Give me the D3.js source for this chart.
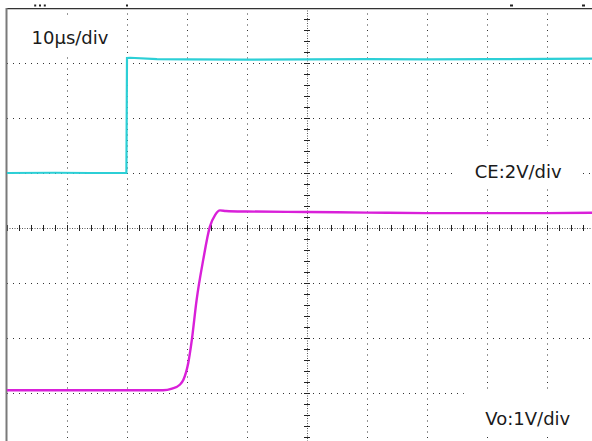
<!DOCTYPE html>
<html>
<head>
<meta charset="utf-8">
<script src="https://cdn.jsdelivr.net/npm/d3@7"></script>
<style>
  body { margin: 0; background: #fff; }
  svg { display: block; }
  text { font-family: "DejaVu Sans", Verdana, sans-serif; font-size: 18px; fill: #1a1a1a; }
</style>
</head>
<body>
<div id="scope"></div>
<script>
// CE channel (2V/div), time in µs, volts
const ceTime = [-50, -42, -36, -30.1, -30, -29.5, -25, -20, -10, 0, 10, 20, 30, 40, 50];
const ceVolt = [0.0, 0.01, 0.0, 0.0, 4.18, 4.19, 4.14, 4.13, 4.12, 4.13, 4.14, 4.13, 4.14, 4.15, 4.16];

// Vo channel (1V/div)
const voTime = [-50, -40, -30, -24, -22.5, -21.2, -20.6, -19.8, -19.2, -18.4, -17.3, -16.2, -15.3, -14.5, -13.5, -10, 0, 10, 20, 30, 40, 50];
const voVolt = [0.05, 0.05, 0.05, 0.05, 0.08, 0.15, 0.24, 0.54, 0.96, 1.69, 2.42, 3.02, 3.24, 3.32, 3.31, 3.30, 3.29, 3.28, 3.27, 3.27, 3.27, 3.28];

const labels = [
  {text: "10µs/div", t: -39.5, div: 3.345},
  {text: "CE:2V/div", t: 35.2, div: 0.91},
  {text: "Vo:1V/div", t: 36.8, div: -3.58}
];
const markerTimes = [-45.3, -44.5, -43.7, -30, 34, 46];

const width = 592, height = 441;
const svg = d3.select('#scope').append('svg')
  .attr('width', width).attr('height', height);

// 10 div x 10µs, 8 div vertical
const x = d3.scaleLinear().domain([-50, 50]).range([7, 607]);
const y = d3.scaleLinear().domain([-4, 4]).range([448, 8]);
const yCE = v => y(1 + v / 2);   // CE ground at +1 div
const yVo = v => y(-3 + v);      // Vo ground at -3 div

const px = v => Math.round(v) + 0.5;

// grid
const grid = svg.append('g');
const xTicks = d3.range(-40, 50, 10).filter(d => d !== 0);
const yTicks = d3.range(-3, 4, 1).filter(d => d !== 0);

grid.selectAll('.vgrid').data(xTicks).enter().append('line')
  .attr('x1', d => px(x(d))).attr('x2', d => px(x(d)))
  .attr('y1', y(4)).attr('y2', y(-4))
  .attr('stroke', '#333').attr('stroke-width', 1)
  .attr('stroke-dasharray', '1,4.5');

grid.selectAll('.hgrid').data(yTicks).enter().append('line')
  .attr('y1', d => px(y(d))).attr('y2', d => px(y(d)))
  .attr('x1', x(-50)).attr('x2', x(50))
  .attr('stroke', '#333').attr('stroke-width', 1)
  .attr('stroke-dasharray', '1,5');

// center axes
grid.append('line')
  .attr('x1', x(-50)).attr('x2', x(50))
  .attr('y1', px(y(0))).attr('y2', px(y(0)))
  .attr('stroke', '#555').attr('stroke-dasharray', '1,1.5');
grid.append('line')
  .attr('y1', y(4)).attr('y2', y(-4))
  .attr('x1', px(x(0))).attr('x2', px(x(0)))
  .attr('stroke', '#555').attr('stroke-dasharray', '1,1.5');

grid.selectAll('.xminor').data(d3.range(-50, 50.01, 2)).enter().append('line')
  .attr('x1', d => px(x(d))).attr('x2', d => px(x(d)))
  .attr('y1', y(0) - 3).attr('y2', y(0) + 3)
  .attr('stroke', '#222');
grid.selectAll('.yminor').data(d3.range(-4, 4.01, 0.2)).enter().append('line')
  .attr('y1', d => px(y(d))).attr('y2', d => px(y(d)))
  .attr('x1', x(0) - 3).attr('x2', x(0) + 3)
  .attr('stroke', '#222');

// frame
svg.append('line')
  .attr('x1', x(-50)).attr('x2', width)
  .attr('y1', px(y(4))).attr('y2', px(y(4)))
  .attr('stroke', '#333');
svg.append('line')
  .attr('x1', x(-50)).attr('x2', width)
  .attr('y1', px(y(4)) + 1).attr('y2', px(y(4)) + 1)
  .attr('stroke', '#c8c8c8');
svg.append('line')
  .attr('x1', x(-50) - 0.5).attr('x2', x(-50) - 0.5)
  .attr('y1', y(4)).attr('y2', height)
  .attr('stroke', '#7a7a7a').attr('stroke-width', 2);

svg.selectAll('.marker').data(markerTimes).enter().append('rect')
  .attr('x', d => x(d) - 1).attr('y', 4.5)
  .attr('width', (d, i) => i > 3 ? 3 : 2).attr('height', 2)
  .attr('fill', '#222');

// label boxes (white background hides the grid behind the text)
const lab = svg.selectAll('.lab').data(labels).enter().append('g')
  .attr('transform', d => `translate(${x(d.t)},${y(d.div)})`);
lab.append('rect')
  .attr('x', (d, i) => i === 0 ? -52 : -64)
  .attr('y', (d, i) => i === 0 ? -29 : -32)
  .attr('width', (d, i) => i === 0 ? 104 : 128)
  .attr('height', (d, i) => i === 0 ? 39 : 42)
  .attr('fill', '#fff');
lab.append('text')
  .attr('text-anchor', 'middle')
  .text(d => d.text);

// traces
const ceData = ceTime.map((t, i) => [t, ceVolt[i]]);
const voData = voTime.map((t, i) => [t, voVolt[i]]);

svg.append('path').datum(ceData)
  .attr('fill', 'none').attr('stroke', '#2ccfd6').attr('stroke-width', 2.2)
  .attr('d', d3.line().x(d => x(d[0])).y(d => yCE(d[1])));

svg.append('path').datum(voData)
  .attr('fill', 'none').attr('stroke', '#d920d9').attr('stroke-width', 2.4)
  .attr('d', d3.line().curve(d3.curveMonotoneX).x(d => x(d[0])).y(d => yVo(d[1])));
</script>
</body>
</html>
